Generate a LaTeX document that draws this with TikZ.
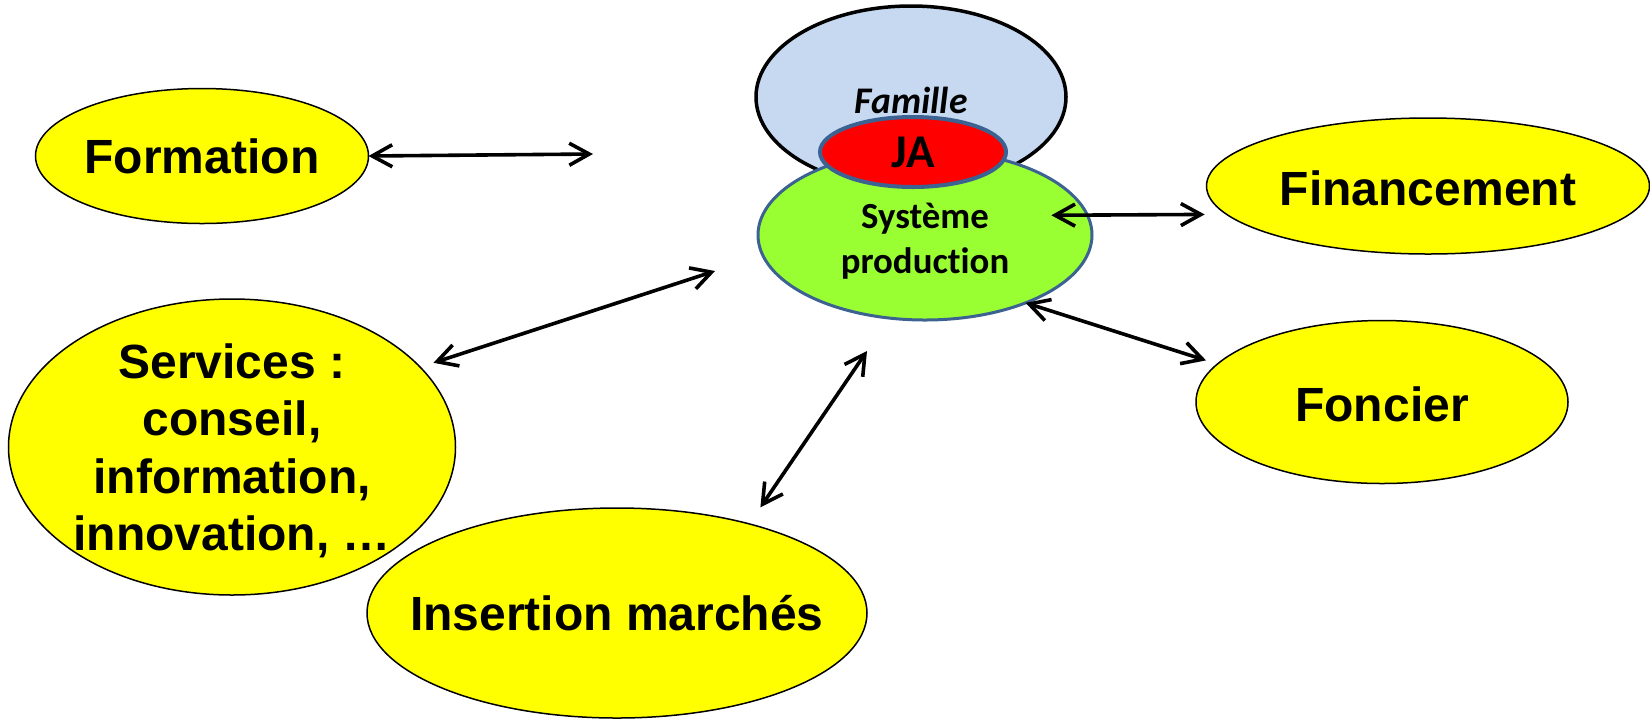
\documentclass[tikz,border=0pt]{standalone}
\usepackage{fontspec}
\setmainfont{Liberation Sans}
\newfontfamily\calib[Ligatures=NoCommon]{Carlito}
\usetikzlibrary{shapes.geometric,arrows.meta}
\definecolor{jaune}{HTML}{FFFF00}
\definecolor{bleuclair}{HTML}{C6D9F1}
\definecolor{vert}{HTML}{99FF33}
\definecolor{rouge}{HTML}{FF0000}
\definecolor{acier}{HTML}{3B6291}
\newcommand{\decale}[2]{\raisebox{#1}[\height][\depth]{#2}}
\newcommand{\lignes}[2]{\decale{#1}{\begin{tabular}{@{}c@{}}#2\end{tabular}}}
\begin{document}
\begin{tikzpicture}[x=0.5pt,y=-0.5pt,
  yell/.style={ellipse,draw=black,line width=0.75pt,fill=jaune,inner sep=-25pt,outer sep=0pt,
    align=center,font=\bfseries\fontsize{24}{28.8}\selectfont},
  centre/.style={ellipse,inner sep=-25pt,outer sep=0pt,align=center},
  link/.style={{Straight Barb[length=10pt,width=11pt]}-{Straight Barb[length=10pt,width=11pt]},
    line width=1.8pt,line cap=round,line join=round}]
\useasboundingbox (0,0) rectangle (1650,720);

% centre cluster
\node[centre,draw=black,line width=1.75pt,fill=bleuclair,minimum width=155pt,minimum height=91pt,
  font=\calib\bfseries\itshape\fontsize{18.8}{22}\selectfont] (fam) at (911,97) {\decale{-1.5pt}{Famille}};
\node[centre,draw=acier,line width=1.5pt,fill=vert,minimum width=167pt,minimum height=85pt,
  font=\calib\bfseries\fontsize{18.4}{22.5}\selectfont] (sys) at (925,235)
  {\lignes{-3.6pt}{Système\\production}};
\node[centre,draw=acier,line width=2pt,fill=rouge,minimum width=93pt,minimum height=35pt,
  font=\calib\bfseries\fontsize{23.5}{28}\selectfont] (ja) at (913,152) {JA};

% surrounding ellipses
\node[yell,minimum width=166.5pt,minimum height=67.5pt] (form) at (202,156) {Formation};
\node[yell,minimum width=221.5pt,minimum height=68pt] (fin) at (1428,186) {\decale{-1pt}{Financement}};
\node[yell,minimum width=186pt,minimum height=81.5pt] (fon) at (1382,402) {\decale{-1pt}{Foncier}};
\node[yell,minimum width=223.5pt,minimum height=148pt] (serv) at (232,447)
  {\lignes{-3pt}{Services :\\conseil,\\information,\\innovation, …}};
\node[yell,minimum width=250pt,minimum height=105pt] (ins) at (617,613) {Insertion marchés};

% free ends
\coordinate (fa) at (593,154);
\coordinate (sa) at (715,271);
\coordinate (ia) at (867,351);

% connectors
\draw[link] (form.east) -- (fa);
\draw[link,shorten <=7pt] (serv.23) -- (sa);
\draw[link,shorten <=10pt] (ins.34) -- (ia);
\draw[link,shorten <=-18pt,shorten >=11pt] (sys.7) -- (fin.188);
\draw[link,shorten >=6pt] (sys.-34) -- (fon.167);
\end{tikzpicture}
\end{document}
